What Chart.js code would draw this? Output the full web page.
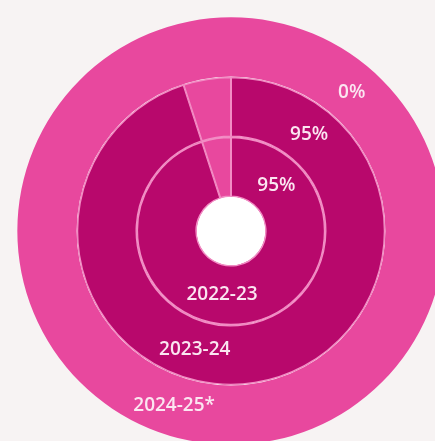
<!DOCTYPE html>
<html>
<head>
<meta charset="utf-8">
<script src="https://cdn.jsdelivr.net/npm/chart.js@4/dist/chart.umd.min.js"></script>
<style>
  html, body { margin: 0; padding: 0; background: #f7f3f3; overflow: hidden; }
  #chart { position: absolute; left: 17px; top: 17px; }
</style>
</head>
<body>
<canvas id="chart" width="428" height="428"></canvas>
<script>
// Anos (do anel externo para o interno) e percentuais
const anos = ['2024-25*', '2023-24', '2022-23'];
const atingido = [0, 95, 95];
const restante = [100, 5, 5];

const corEscura = '#b8086c';
const corClara = '#e8489e';

// Ângulo (graus a partir do topo) onde cada texto é desenhado
const anguloPercentual = [41, 39, 45];
const anguloAno = [198, 197, 188];

const rotulos = {
  id: 'rotulos',
  beforeDatasetsDraw(chart) {
    // miolo branco
    const arc = chart.getDatasetMeta(chart.data.datasets.length - 1).data[0];
    const ctx = chart.ctx;
    ctx.save();
    ctx.fillStyle = '#ffffff';
    ctx.beginPath();
    ctx.arc(arc.x, arc.y, arc.innerRadius, 0, Math.PI * 2);
    ctx.fill();
    ctx.restore();
  },
  afterDatasetsDraw(chart) {
    const ctx = chart.ctx;
    ctx.save();
    ctx.fillStyle = '#fbe6f1';
    ctx.textAlign = 'center';
    ctx.textBaseline = 'middle';
    ctx.font = '600 19px "Open Sans", sans-serif';
    chart.data.datasets.forEach((ds, i) => {
      const arc = chart.getDatasetMeta(i).data[0];
      const r = (arc.innerRadius + arc.outerRadius) / 2;
      const desenha = (texto, graus) => {
        const a = (graus - 90) * Math.PI / 180;
        ctx.fillText(texto, arc.x + r * Math.cos(a), arc.y + r * Math.sin(a));
      };
      desenha(atingido[i] + '%', anguloPercentual[i]);
      desenha(anos[i], anguloAno[i]);
    });
    ctx.restore();
  }
};

new Chart(document.getElementById('chart').getContext('2d'), {
  type: 'doughnut',
  data: {
    labels: ['Atingido', 'Restante'],
    datasets: anos.map((ano, i) => ({
      label: ano,
      data: [atingido[i], restante[i]],
      backgroundColor: [corEscura, corClara],
      borderColor: '#f28cc4',
      borderWidth: atingido[i] === 0 ? 0 : 1,
      borderAlign: 'inner'
    }))
  },
  options: {
    responsive: false,
    animation: false,
    cutout: '16%',
    layout: { padding: 0 },
    plugins: {
      legend: { display: false },
      tooltip: { enabled: false }
    }
  },
  plugins: [rotulos]
});
</script>
</body>
</html>
